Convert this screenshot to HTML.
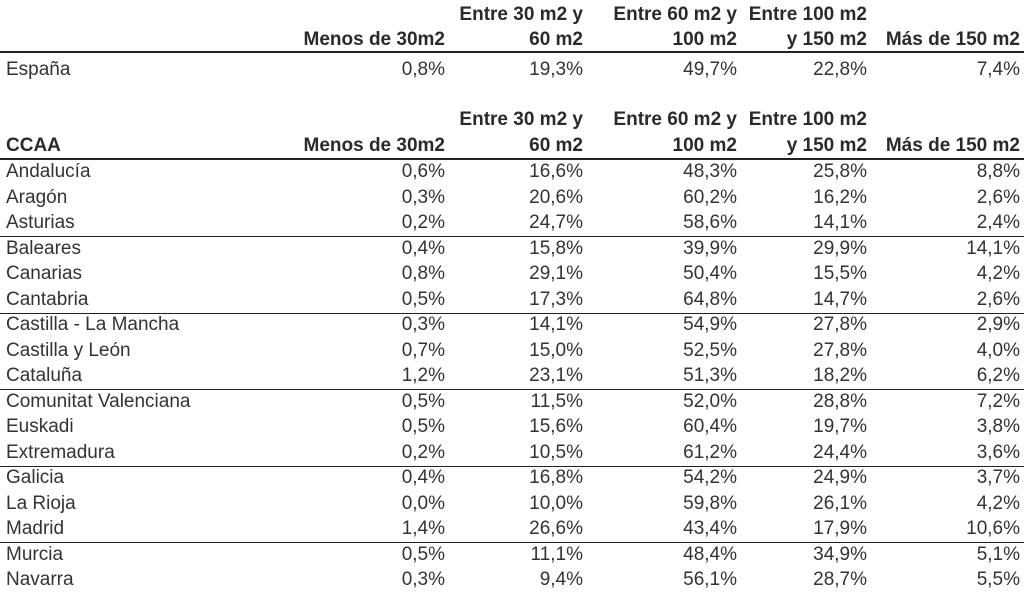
<!DOCTYPE html>
<html><head><meta charset="utf-8"><style>
body{margin:0;width:1024px;height:593px;background:#fff;position:relative;overflow:hidden;font-family:"Liberation Sans",Arial,sans-serif;font-size:19px;color:#333}
.t{position:absolute;line-height:20px;white-space:nowrap}
.r{text-align:right}
.b{font-weight:bold;color:#2a2a2a}
.l{position:absolute;left:0;width:1024px;background:#222}
</style></head><body>
<div id="c"></div>
<script>
var cols=[445,583,737,867,1020];
var out='';
function t(x,y,s,cls){out+='<div class="t '+cls+'" style="'+(cls.indexOf('r')>=0?'right:'+(1024-x)+'px':'left:'+x+'px')+';top:'+(y-10)+'px">'+s+'</div>';}
function hdr(y1,y2,first){
 if(first)t(6,y2,first,'b');
 t(cols[0],y2,'Menos de 30m2','r b');
 t(cols[1],y1,'Entre 30 m2 y','r b');t(cols[1],y2,'60 m2','r b');
 t(cols[2],y1,'Entre 60 m2 y','r b');t(cols[2],y2,'100 m2','r b');
 t(cols[3],y1,'Entre 100 m2','r b');t(cols[3],y2,'y 150 m2','r b');
 t(cols[4],y2,'Más de 150 m2','r b');
}
function row(y,n,v){t(6,y,n,'');for(var i=0;i<5;i++)t(cols[i],y,v[i],'r');}
hdr(15,40,'');
out+='<div class="l" style="top:51px;height:2px"></div>';
row(70,'España',['0,8%','19,3%','49,7%','22,8%','7,4%']);
hdr(120,146,'CCAA');
out+='<div class="l" style="top:158px;height:2px"></div>';
var d=[['Andalucía','0,6%','16,6%','48,3%','25,8%','8,8%'],['Aragón','0,3%','20,6%','60,2%','16,2%','2,6%'],['Asturias','0,2%','24,7%','58,6%','14,1%','2,4%'],['Baleares','0,4%','15,8%','39,9%','29,9%','14,1%'],['Canarias','0,8%','29,1%','50,4%','15,5%','4,2%'],['Cantabria','0,5%','17,3%','64,8%','14,7%','2,6%'],['Castilla - La Mancha','0,3%','14,1%','54,9%','27,8%','2,9%'],['Castilla y León','0,7%','15,0%','52,5%','27,8%','4,0%'],['Cataluña','1,2%','23,1%','51,3%','18,2%','6,2%'],['Comunitat Valenciana','0,5%','11,5%','52,0%','28,8%','7,2%'],['Euskadi','0,5%','15,6%','60,4%','19,7%','3,8%'],['Extremadura','0,2%','10,5%','61,2%','24,4%','3,6%'],['Galicia','0,4%','16,8%','54,2%','24,9%','3,7%'],['La Rioja','0,0%','10,0%','59,8%','26,1%','4,2%'],['Madrid','1,4%','26,6%','43,4%','17,9%','10,6%'],['Murcia','0,5%','11,1%','48,4%','34,9%','5,1%'],['Navarra','0,3%','9,4%','56,1%','28,7%','5,5%']];
for(var i=0;i<d.length;i++){var y=172+i*25.5;row(Math.round(y),d[i][0],d[i].slice(1));
 if(i%3==2&&i<16)out+='<div class="l" style="top:'+Math.round(y+13)+'px;height:1px"></div>';}
document.getElementById('c').innerHTML=out;
</script>
</body></html>
